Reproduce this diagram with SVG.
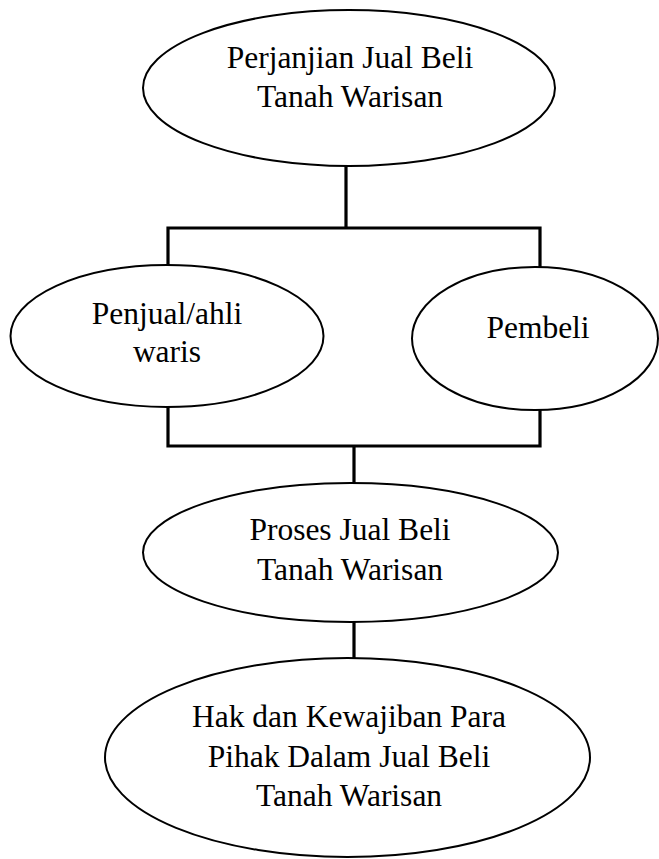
<svg xmlns="http://www.w3.org/2000/svg" width="659" height="859" viewBox="0 0 659 859">
<style>
.node ellipse{fill:#fff;stroke:#000;stroke-width:2}
.node text{font-family:"Liberation Serif","Times New Roman",serif;font-size:31.5px;fill:#000;text-anchor:middle}
.conn{fill:none;stroke:#000;stroke-width:3.2;stroke-linecap:square;stroke-linejoin:miter}
</style>
<rect width="659" height="859" fill="#fff"/>
<g id="connectors">
<path class="conn" d="M346,166 V228 M168,228 H540 M168,228 V265 M540,228 V267"/>
<path class="conn" d="M168,407 V446 H540 V410 M354,446 V483"/>
<path class="conn" d="M354,622 V658"/>
</g>
<g id="n1" class="node">
<ellipse cx="349" cy="88" rx="206" ry="78"/>
<text x="350" y="68">Perjanjian Jual Beli</text>
<text x="350" y="107">Tanah Warisan</text>
</g>
<g id="n2" class="node">
<ellipse cx="167" cy="336" rx="156.5" ry="71"/>
<text x="167" y="324">Penjual/ahli</text>
<text x="167" y="362">waris</text>
</g>
<g id="n3" class="node">
<ellipse cx="535" cy="338.5" rx="123" ry="71.5"/>
<text x="538" y="338">Pembeli</text>
</g>
<g id="n4" class="node">
<ellipse cx="350.5" cy="552.5" rx="207.5" ry="69.5"/>
<text x="350" y="540">Proses Jual Beli</text>
<text x="350" y="580">Tanah Warisan</text>
</g>
<g id="n5" class="node">
<ellipse cx="347.5" cy="757.5" rx="242.5" ry="99.5"/>
<text x="349" y="727">Hak dan Kewajiban Para</text>
<text x="349" y="767">Pihak Dalam Jual Beli</text>
<text x="349" y="806">Tanah Warisan</text>
</g>
</svg>
